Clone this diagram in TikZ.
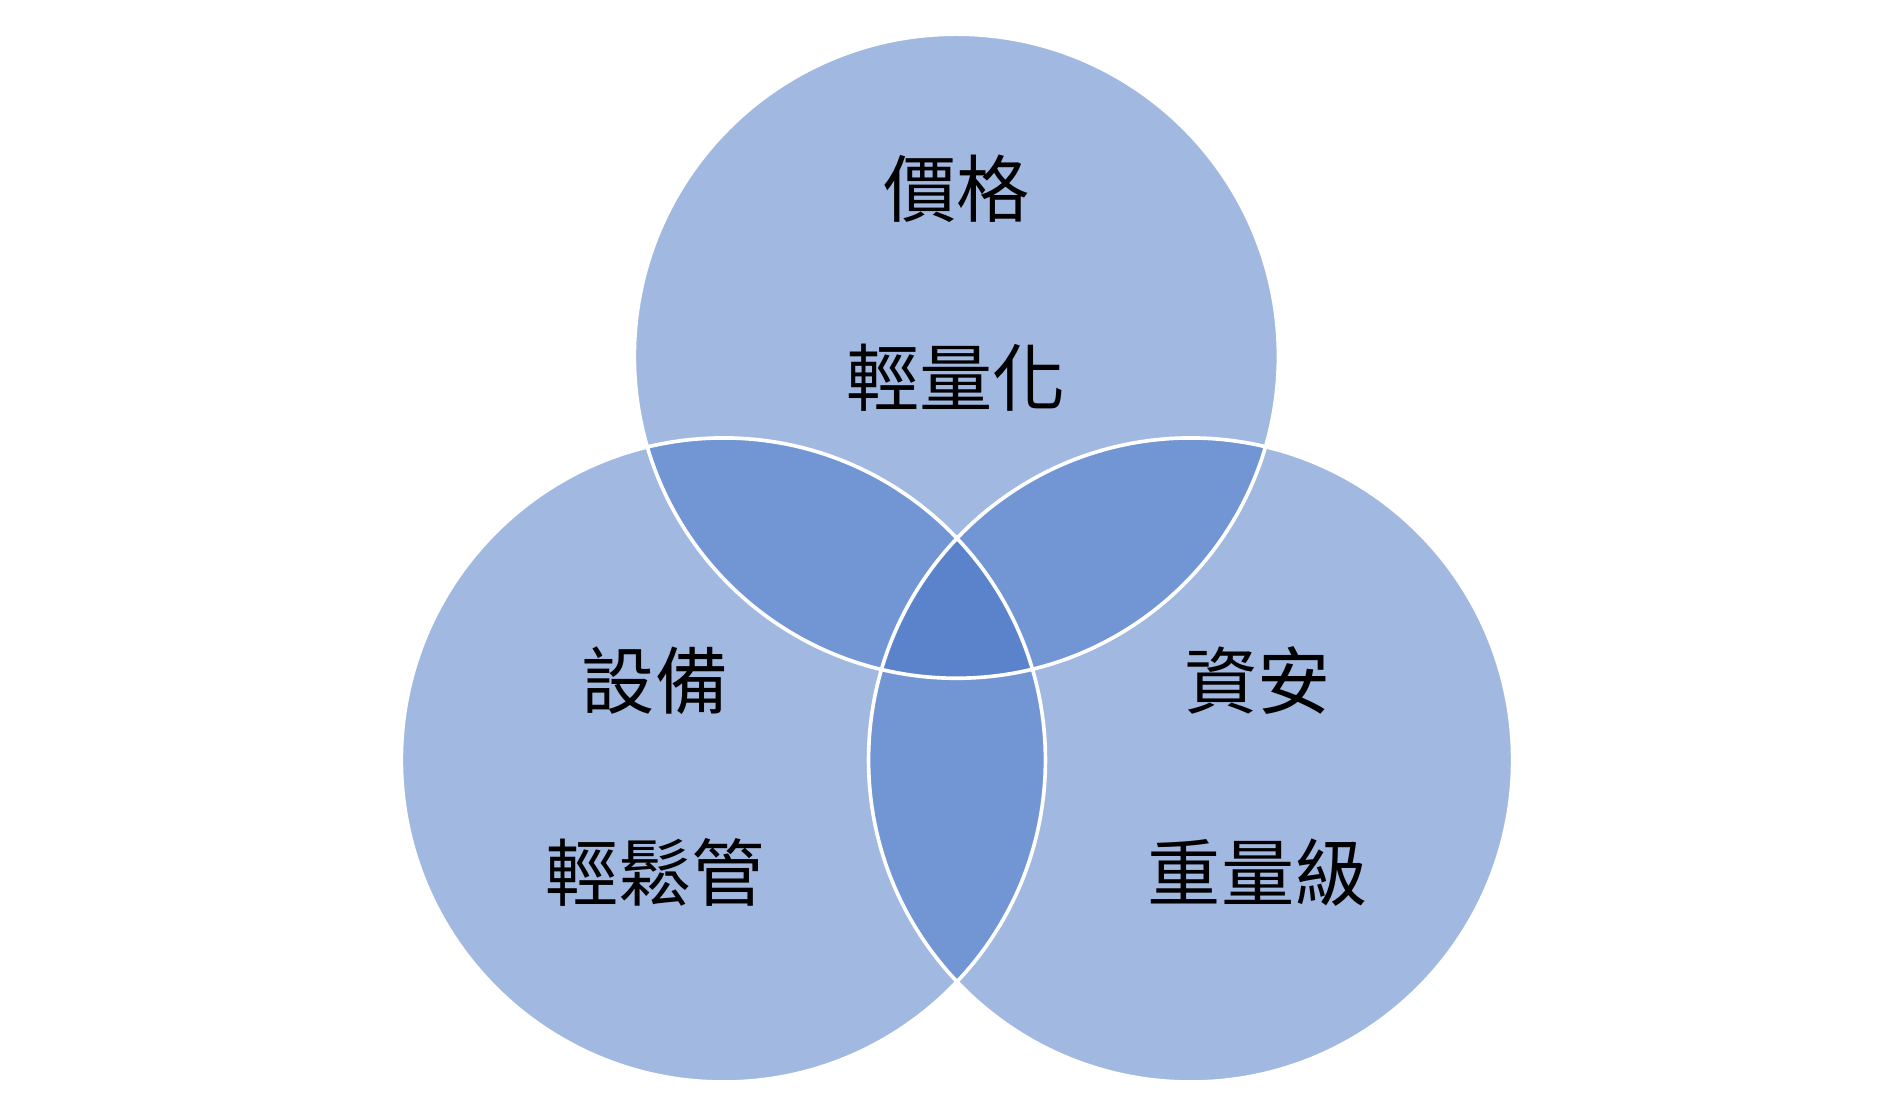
\documentclass[tikz,border=0pt]{standalone}
\usepackage{fontspec}
\newfontfamily\cjk{Noto Sans CJK TC}
\definecolor{vb}{HTML}{4472C4}
\begin{document}
\begin{tikzpicture}[x=1pt,y=-1pt,
  circ/.style={fill=vb,fill opacity=0.5},
  edge/.style={draw=white,line width=3pt},
  lbl/.style={font=\cjk\fontsize{60}{60}\selectfont,text=black}]
\useasboundingbox (0,0) rectangle (1560,910);
\fill[circ] (784,292) circle (264);
\fill[circ] (593,623) circle (264);
\fill[circ] (976,623) circle (264);
\draw[edge] (784,292) circle (264);
\draw[edge] (593,623) circle (264);
\draw[edge] (976,623) circle (264);
\node[lbl] (a1) at (784,155) {價格};
\node[lbl] (a2) at (784,310) {輕量化};
\node[lbl] (b1) at (537,558) {設備};
\node[lbl] (b2) at (537,715) {輕鬆管};
\node[lbl] (c1) at (1031,558) {資安};
\node[lbl] (c2) at (1031,715) {重量級};
\end{tikzpicture}
\end{document}
